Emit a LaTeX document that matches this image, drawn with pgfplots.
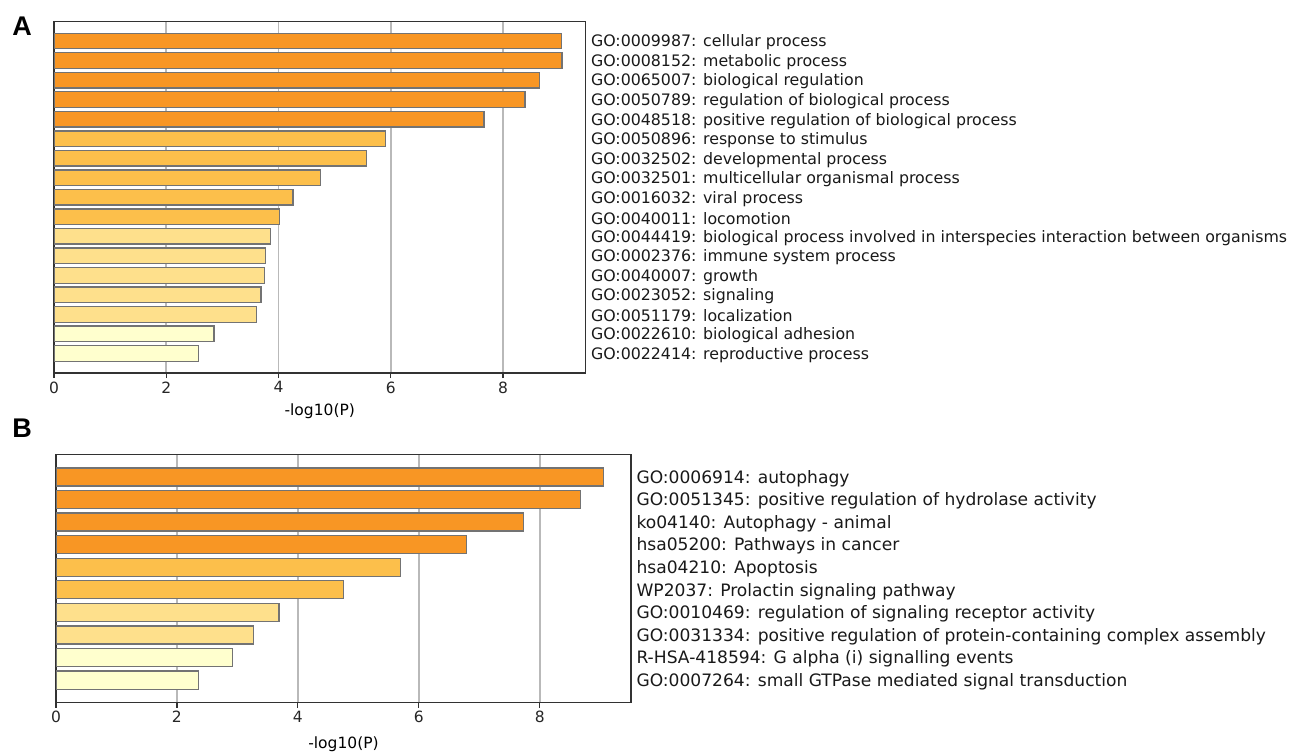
\documentclass[border=0pt]{standalone}
\usepackage{pgfplots}
\pgfplotsset{compat=1.18}
\usepackage{fontspec}
\setmainfont{DejaVu Sans}
\newfontfamily\letterfont{Liberation Sans}
\definecolor{c1}{RGB}{248,150,36}
\definecolor{c2}{RGB}{252,191,75}
\definecolor{c3}{RGB}{254,224,140}
\definecolor{c4}{RGB}{255,255,206}
\definecolor{spine}{RGB}{50,50,50}
\definecolor{barline}{RGB}{115,115,115}
\definecolor{gridc}{RGB}{185,185,185}
\pgfplotsset{
  panel/.style={
    scale only axis,
    anchor=south west,
    xmin=0,
    xbar, bar width=0.8, bar shift=0pt,
    y dir=reverse,
    xtick={0,2,4,6,8},
    xmajorgrids,
    grid style={gridc, line width=1.6pt},
    xtick pos=lower,
    tick align=outside,
    major tick length=5pt,
    xtick style={spine, line width=1.2pt},
    ytick style={draw=none},
    yticklabel pos=right,
    axis line style={spine, line width=1.5pt},
    /pgf/number format/assume math mode=true,
    xticklabel style={font=\fontsize{15.5}{18}\selectfont, text=black!85},
    yticklabel style={text=black!90, anchor=west, xshift=-3pt, yshift=-1.5pt},
    xlabel={-log10(P)},
    every axis plot/.append style={draw=barline, line width=1.3pt},
  }
}
\begin{document}
\begin{tikzpicture}
\useasboundingbox (0,0) rectangle (1299pt,-754pt);
\node[font=\letterfont\bfseries\fontsize{27}{27}\selectfont] at (22pt,-26pt) {A};
\node[font=\letterfont\bfseries\fontsize{27}{27}\selectfont] at (22pt,-428pt) {B};
\begin{axis}[panel,
  at={(54pt,-373pt)},
  width=531.5pt, height=351.5pt,
  xmax=9.47, ymin=-1, ymax=17,
  ytick={0,...,16},
  yticklabel style={font=\fontsize{15.8}{18}\selectfont},
  xlabel style={font=\fontsize{15.5}{18}\selectfont, at={(axis description cs:0.5,0)}, anchor=center, yshift=-38pt},
  yticklabels={
    GO:0009987: cellular process,
    GO:0008152: metabolic process,
    GO:0065007: biological regulation,
    GO:0050789: regulation of biological process,
    GO:0048518: positive regulation of biological process,
    GO:0050896: response to stimulus,
    GO:0032502: developmental process,
    GO:0032501: multicellular organismal process,
    GO:0016032: viral process,
    GO:0040011: locomotion,
    GO:0044419: biological process involved in interspecies interaction between organisms,
    GO:0002376: immune system process,
    GO:0040007: growth,
    GO:0023052: signaling,
    GO:0051179: localization,
    GO:0022610: biological adhesion,
    GO:0022414: reproductive process},
]
\addplot[fill=c1] coordinates {(9.04,0) (9.05,1) (8.65,2) (8.39,3) (7.66,4)};
\addplot[fill=c2] coordinates {(5.91,5) (5.57,6) (4.75,7) (4.26,8) (4.02,9)};
\addplot[fill=c3] coordinates {(3.86,10) (3.77,11) (3.75,12) (3.69,13) (3.61,14)};
\addplot[fill=c4] coordinates {(2.85,15) (2.57,16)};
\end{axis}
\begin{axis}[panel,
  at={(56pt,-702.7pt)},
  width=575pt, height=248.4pt,
  xmax=9.51, ymin=-1, ymax=10,
  ytick={0,...,9},
  yticklabel style={font=\fontsize{17.1}{20}\selectfont},
  xlabel style={font=\fontsize{15.5}{18}\selectfont, at={(axis description cs:0.5,0)}, anchor=center, yshift=-42pt},
  yticklabels={
    GO:0006914: autophagy,
    GO:0051345: positive regulation of hydrolase activity,
    ko04140: Autophagy - animal,
    hsa05200: Pathways in cancer,
    hsa04210: Apoptosis,
    WP2037: Prolactin signaling pathway,
    GO:0010469: regulation of signaling receptor activity,
    GO:0031334: positive regulation of protein-containing complex assembly,
    R-HSA-418594: G alpha (i) signalling events,
    GO:0007264: small GTPase mediated signal transduction},
]
\addplot[fill=c1] coordinates {(9.05,0) (8.67,1) (7.73,2) (6.79,3)};
\addplot[fill=c2] coordinates {(5.70,4) (4.75,5)};
\addplot[fill=c3] coordinates {(3.69,6) (3.27,7)};
\addplot[fill=c4] coordinates {(2.92,8) (2.36,9)};
\end{axis}
\end{tikzpicture}
\end{document}
